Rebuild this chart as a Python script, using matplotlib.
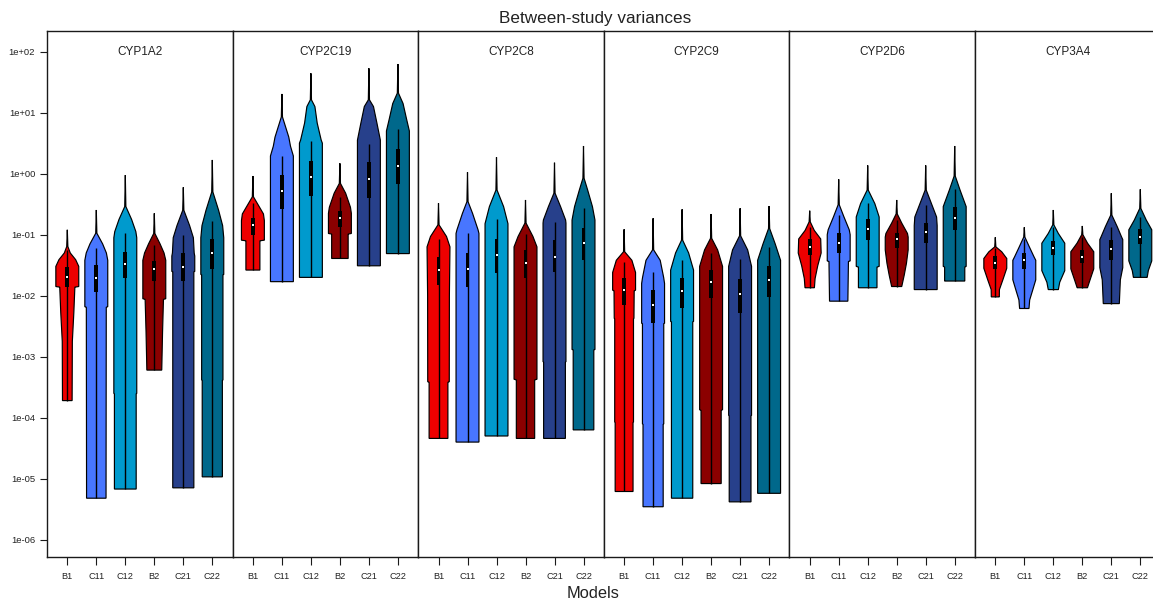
import numpy as np
import matplotlib
matplotlib.use("Agg")
import matplotlib.pyplot as plt
from matplotlib.patches import Rectangle

plt.rcParams['font.family'] = ['Liberation Sans', 'DejaVu Sans']

# ---------------- data (log10 of between-study variance) ----------------
genes = ["CYP1A2", "CYP2C19", "CYP2C8", "CYP2C9", "CYP2D6", "CYP3A4"]
models = ["B1", "C11", "C12", "B2", "C21", "C22"]
colors = ["#EE0000", "#4876FF", "#009ACD", "#8B0000", "#27408B", "#00688B"]

# maximum (end of violin tail)
log_max = [
    [-0.92, -0.595, -0.023, -0.65, -0.223, 0.225],
    [-0.038, 1.307, 1.646, 0.17, 1.728, 1.798],
    [-0.485, 0.023, 0.269, -0.431, 0.18, 0.454],
    [-0.912, -0.731, -0.584, -0.661, -0.567, -0.53],
    [-0.607, -0.092, 0.136, -0.431, 0.136, 0.454],
    [-1.043, -0.879, -0.595, -0.857, -0.321, -0.256],
]
# minimum (bottom of violin / lower whisker)
log_min = [
    [-3.72, -5.32, -5.17, -3.22, -5.15, -4.97],
    [-1.58, -1.77, -1.70, -1.39, -1.51, -1.31],
    [-4.34, -4.40, -4.30, -4.34, -4.34, -4.20],
    [-5.21, -5.46, -5.32, -5.08, -5.38, -5.24],
    [-1.87, -2.09, -1.87, -1.85, -1.90, -1.76],
    [-2.02, -2.21, -1.90, -1.87, -2.13, -1.70],
]
# upper whisker
log_upper = [
    [-1.25, -1.22, -0.977, -1.17, -1.0, -0.775],
    [-0.485, 0.29, 0.541, -0.377, 0.487, 0.728],
    [-1.075, -0.967, -0.748, -0.99, -0.787, -0.567],
    [-1.443, -1.607, -1.415, -1.305, -1.403, -1.197],
    [-0.879, -0.677, -0.485, -0.76, -0.513, -0.256],
    [-1.223, -1.075, -0.869, -1.043, -0.879, -0.705],
]
log_q3 = [
    [-1.534, -1.497, -1.279, -1.426, -1.305, -1.075],
    [-0.73, -0.021, 0.213, -0.607, 0.187, 0.41],
    [-1.361, -1.305, -1.075, -1.25, -1.087, -0.895],
    [-1.705, -1.907, -1.715, -1.579, -1.731, -1.508],
    [-1.075, -0.977, -0.748, -0.977, -0.813, -0.541],
    [-1.349, -1.295, -1.098, -1.25, -1.087, -0.912],
]
log_median = [
    [-1.689, -1.705, -1.485, -1.562, -1.525, -1.295],
    [-0.846, -0.279, -0.054, -0.73, -0.092, 0.126],
    [-1.579, -1.562, -1.338, -1.459, -1.361, -1.136],
    [-1.907, -2.152, -1.923, -1.78, -1.972, -1.743],
    [-1.197, -1.13, -0.912, -1.075, -0.951, -0.731],
    [-1.459, -1.415, -1.213, -1.361, -1.239, -1.033],
]
log_q1 = [
    [-1.852, -1.934, -1.715, -1.754, -1.754, -1.562],
    [-1.005, -0.584, -0.366, -0.869, -0.393, -0.174],
    [-1.825, -1.852, -1.623, -1.715, -1.607, -1.415],
    [-2.152, -2.452, -2.207, -2.043, -2.289, -2.026],
    [-1.333, -1.305, -1.087, -1.223, -1.141, -0.923],
    [-1.567, -1.567, -1.333, -1.469, -1.415, -1.157],
]
# density profile: (log10 level, relative width)
profiles = [
    [  # CYP1A2
        [(-1.195, 0.05), (-1.30, 0.26), (-1.41, 0.73), (-1.52, 1.0), (-1.85, 1.0), (-1.86, 0.66), (-2.28, 0.57), (-2.75, 0.44), (-3.72, 0.42)],
        [(-0.977, 0.05), (-1.15, 0.55), (-1.30, 0.88), (-1.42, 1.0), (-2.18, 1.0), (-2.19, 0.87), (-5.32, 0.85)],
        [(-0.54, 0.05), (-0.75, 0.55), (-0.95, 0.92), (-1.05, 1.0), (-3.6, 1.0), (-3.61, 0.95), (-5.17, 0.95)],
        [(-0.98, 0.05), (-1.15, 0.5), (-1.3, 0.85), (-1.42, 1.0), (-2.05, 1.0), (-2.06, 0.8), (-2.6, 0.72), (-3.22, 0.65)],
        [(-0.6, 0.05), (-0.85, 0.55), (-1.05, 0.88), (-1.3, 0.95), (-1.35, 1.0), (-1.6, 1.0), (-1.61, 0.92), (-5.15, 0.92)],
        [(-0.3, 0.05), (-0.6, 0.55), (-0.85, 0.9), (-1.05, 1.0), (-1.65, 1.0), (-1.66, 0.93), (-3.38, 0.93), (-3.39, 0.88), (-4.97, 0.88)],
    ],
    [  # CYP2C19
        [(-0.38, 0.05), (-0.55, 0.58), (-0.66, 0.92), (-0.77, 1.0), (-1.09, 1.0), (-1.10, 0.61), (-1.58, 0.61)],
        [(0.93, 0.05), (0.6, 0.6), (0.45, 0.75), (0.29, 1.0), (-1.77, 1.0)],
        [(1.21, 0.05), (1.1, 0.35), (0.83, 0.55), (0.55, 0.9), (0.5, 1.0), (-1.70, 1.0)],
        [(-0.16, 0.05), (-0.32, 0.5), (-0.55, 0.92), (-0.65, 1.0), (-0.98, 1.0), (-0.99, 0.72), (-1.39, 0.72)],
        [(1.21, 0.05), (1.1, 0.4), (0.83, 0.7), (0.55, 1.0), (-1.51, 1.0)],
        [(1.32, 0.05), (1.15, 0.45), (0.9, 0.75), (0.7, 1.0), (-1.31, 1.0)],
    ],
    [  # CYP2C8
        [(-0.84, 0.05), (-1.03, 0.7), (-1.2, 1.0), (-2.0, 0.95), (-3.41, 0.94), (-3.42, 0.82), (-4.34, 0.82)],
        [(-0.46, 0.05), (-0.65, 0.44), (-0.92, 0.92), (-0.98, 1.0), (-4.40, 1.0)],
        [(-0.27, 0.05), (-0.54, 0.62), (-0.82, 1.0), (-4.30, 1.0)],
        [(-0.81, 0.05), (-1.03, 0.65), (-1.2, 1.0), (-3.37, 1.0), (-3.38, 0.8), (-4.34, 0.8)],
        [(-0.32, 0.05), (-0.54, 0.53), (-0.76, 0.97), (-0.81, 1.0), (-3.08, 1.0), (-3.09, 0.95), (-4.34, 0.95)],
        [(-0.075, 0.05), (-0.26, 0.35), (-0.54, 0.78), (-0.76, 1.0), (-2.88, 1.0), (-2.89, 0.9), (-4.20, 0.9)],
    ],
    [  # CYP2C9
        [(-1.28, 0.05), (-1.42, 0.68), (-1.62, 1.0), (-1.91, 1.0), (-1.92, 0.88), (-2.37, 0.86), (-2.38, 0.82), (-4.07, 0.82), (-4.08, 0.78), (-5.21, 0.78)],
        [(-1.25, 0.05), (-1.42, 0.62), (-1.7, 0.92), (-1.8, 1.0), (-2.45, 1.0), (-2.46, 0.93), (-4.1, 0.93), (-4.11, 0.88), (-5.46, 0.88)],
        [(-1.09, 0.05), (-1.3, 0.57), (-1.58, 1.0), (-2.42, 1.0), (-2.43, 0.93), (-5.32, 0.93)],
        [(-1.06, 0.05), (-1.25, 0.57), (-1.52, 1.0), (-3.87, 1.0), (-3.88, 0.88), (-5.08, 0.88)],
        [(-1.02, 0.05), (-1.25, 0.66), (-1.52, 1.0), (-3.96, 1.0), (-3.97, 0.95), (-5.38, 0.95)],
        [(-0.9, 0.05), (-1.15, 0.53), (-1.42, 1.0), (-5.24, 1.0)],
    ],
    [  # CYP2D6
        [(-0.79, 0.05), (-0.93, 0.4), (-1.07, 0.96), (-1.3, 1.0), (-1.51, 0.7), (-1.72, 0.47), (-1.87, 0.41)],
        [(-0.51, 0.05), (-0.7, 0.44), (-0.92, 0.92), (-1.0, 1.0), (-1.43, 1.0), (-1.44, 0.85), (-2.09, 0.8)],
        [(-0.27, 0.05), (-0.49, 0.62), (-0.71, 1.0), (-1.52, 1.0), (-1.53, 0.81), (-1.87, 0.81)],
        [(-0.66, 0.05), (-0.81, 0.44), (-0.98, 0.94), (-1.04, 1.0), (-1.25, 1.0), (-1.47, 0.85), (-1.66, 0.66), (-1.85, 0.44)],
        [(-0.27, 0.05), (-0.49, 0.5), (-0.71, 0.95), (-0.85, 1.0), (-1.90, 1.0)],
        [(-0.04, 0.05), (-0.27, 0.47), (-0.54, 1.0), (-1.52, 1.0), (-1.53, 0.88), (-1.76, 0.88)],
    ],
    [  # CYP3A4
        [(-1.2, 0.05), (-1.28, 0.56), (-1.39, 1.0), (-1.55, 1.0), (-1.74, 0.66), (-1.9, 0.36), (-2.02, 0.35)],
        [(-1.04, 0.05), (-1.2, 0.44), (-1.36, 0.84), (-1.42, 1.0), (-1.74, 1.0), (-1.91, 0.73), (-2.07, 0.47), (-2.21, 0.41)],
        [(-0.84, 0.05), (-0.98, 0.44), (-1.14, 1.0), (-1.59, 1.0), (-1.78, 0.56), (-1.9, 0.44)],
        [(-1.0, 0.05), (-1.14, 0.46), (-1.28, 1.0), (-1.56, 1.0), (-1.75, 0.66), (-1.87, 0.45)],
        [(-0.68, 0.05), (-0.87, 0.52), (-1.03, 0.88), (-1.08, 1.0), (-1.54, 1.0), (-1.74, 0.79), (-2.13, 0.7)],
        [(-0.57, 0.05), (-0.76, 0.52), (-0.92, 1.0), (-1.43, 1.0), (-1.59, 0.7), (-1.70, 0.6)],
    ],
]

# ---------------- figure ----------------
W, H = 1153, 600
fig = plt.figure(figsize=(W / 100, H / 100), dpi=100)
x0, pw, ybot, ytop = 47, 185.6, 557, 31
frame_col = "#1a1a1a"
text_col = "#222222"
full_width = 0.79

for gi, gene in enumerate(genes):
    ax = fig.add_axes([(x0 + gi * pw) / W, (H - ybot) / H, pw / W, (ybot - ytop) / H])
    ax.set_yscale('log')
    ax.set_ylim(10 ** -6.284, 10 ** 2.339)
    ax.set_xlim(0.3, 6.7)
    for mi in range(len(models)):
        xc = mi + 1
        prof = [(log_max[gi][mi], 0.0)] + profiles[gi][mi]
        lv = np.array([p[0] for p in prof])
        wd = np.array([p[1] for p in prof])
        ys, ws = [], []
        for k in range(len(lv) - 1):
            t = np.linspace(0, 1, 25)
            ys.append(lv[k] + (lv[k + 1] - lv[k]) * t)
            ws.append(wd[k] + (wd[k + 1] - wd[k]) * t)
        ys = np.concatenate(ys)
        ws = np.concatenate(ws)
        half = ws * full_width / 2
        xs = np.concatenate([xc - half, (xc + half)[::-1]])
        yv = 10 ** np.concatenate([ys, ys[::-1]])
        ax.fill(xs, yv, facecolor=colors[mi], edgecolor='black', lw=0.85, zorder=2)
        # whisker line
        ax.plot([xc, xc], [10 ** log_min[gi][mi], 10 ** log_upper[gi][mi]],
                color='black', lw=1.0, zorder=3, solid_capstyle='butt')
        # box
        q1, q3 = 10 ** log_q1[gi][mi], 10 ** log_q3[gi][mi]
        ax.add_patch(Rectangle((xc - 0.065, q1), 0.13, q3 - q1, facecolor='black',
                               edgecolor='none', zorder=4))
        ax.plot([xc], [10 ** log_median[gi][mi]], 's', color='white', ms=1.7, mew=0, zorder=5)

    ax.text(0.5, 0.96, gene, transform=ax.transAxes, ha='center', va='center',
            fontsize=8.5, color=text_col)
    ax.set_xticks(range(1, len(models) + 1))
    ax.set_xticklabels(models)
    ax.tick_params(axis='x', direction='out', length=5.5, width=0.8, pad=5.0,
                   labelsize=6.6, colors=frame_col, labelcolor=text_col)
    ax.minorticks_off()
    if gi == 0:
        yt = [10.0 ** k for k in range(-6, 3)]
        ax.set_yticks(yt)
        ax.set_yticklabels(["1e%+03d" % k for k in range(-6, 3)])
        ax.tick_params(axis='y', direction='out', length=5.0, width=0.8, pad=3.5,
                       labelsize=6.8, colors=frame_col, labelcolor=text_col)
    else:
        ax.set_yticks([])
    ax.tick_params(axis='y', which='minor', left=False, right=False)
    for s in ax.spines.values():
        s.set_color(frame_col)
        s.set_linewidth(1.0)

fig.text(595 / W, 1 - 18 / H, "Between-study variances", ha='center', va='center',
         fontsize=12.3, color=text_col)
fig.text(593 / W, 1 - 594 / H, "Models", ha='center', va='center',
         fontsize=11.8, color=text_col)

fig.savefig("out.png", dpi=100)
